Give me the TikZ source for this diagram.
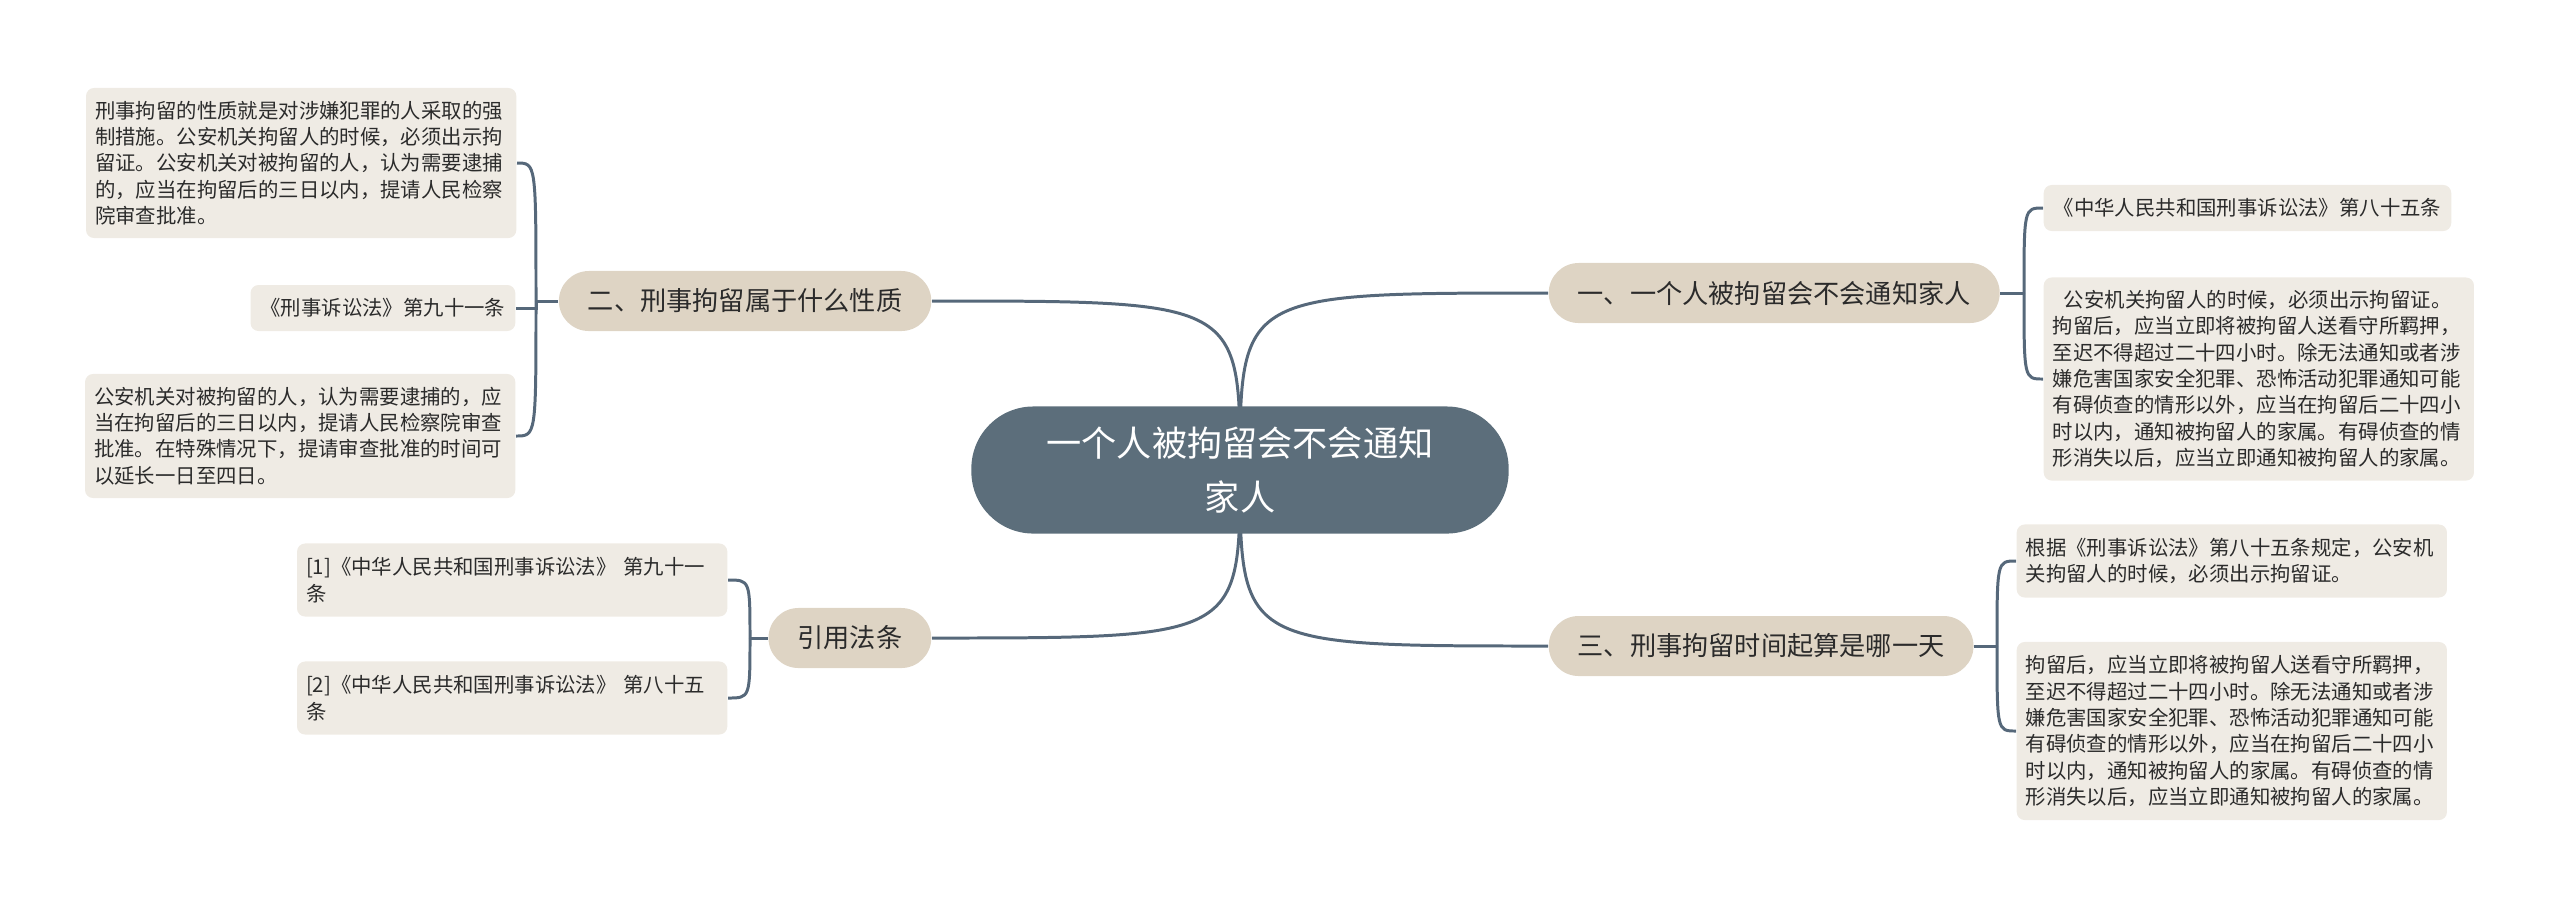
\documentclass[tikz,border=0pt]{standalone}
\usepackage{fontspec}
\setmainfont{Noto Sans CJK SC}
\usetikzlibrary{backgrounds}

\definecolor{rootfill}{HTML}{5C6E7B}
\definecolor{topicfill}{HTML}{DED4C4}
\definecolor{leaffill}{HTML}{EFEBE4}
\definecolor{linkcol}{HTML}{56687A}
\definecolor{textcol}{HTML}{2B2B2B}

\begin{document}
\begin{tikzpicture}[x=0.01cm, y=-0.01cm]
    \tikzstyle{root}=[fill=rootfill, text=white, rounded corners=0.62cm, minimum width=5.37cm, minimum height=1.27cm, align=center, font=\fontsize{10pt}{15.6pt}\selectfont]
    \tikzstyle{topic}=[fill=topicfill, text=textcol, rounded corners=0.3cm, minimum height=0.6cm, inner xsep=0.29cm, font=\fontsize{7.45pt}{9pt}\selectfont]
    \tikzstyle{leaf}=[fill=leaffill, text=textcol, rounded corners=0.08cm, text width=4.12cm, align=left, inner xsep=0.09cm, font=\fontsize{5.8pt}{7.5pt}\selectfont]
    \tikzstyle{tag}=[fill=leaffill, text=textcol, rounded corners=0.08cm, inner xsep=0.1cm, minimum height=0.46cm, font=\fontsize{5.8pt}{7.5pt}\selectfont]
    \tikzstyle{link}=[draw=linkcol, line width=0.85pt]

    \useasboundingbox (0,0) rectangle (2560,908);

    % Root
    \node[root] (root) at (1240,470) {一个人被拘留会不会通知\\家人};

    % Topics
    \node[topic, anchor=west] (t1) at (1548,293) {一、一个人被拘留会不会通知家人};
    \node[topic, anchor=east] (t2) at (932,301) {二、刑事拘留属于什么性质};
    \node[topic, anchor=west] (t3) at (1548,646) {三、刑事拘留时间起算是哪一天};
    \node[topic, anchor=east] (t4) at (932,638) {引用法条};

    % Left leaves
    \node[leaf, minimum height=1.5cm, anchor=east] (l1) at (517,163)
      {刑事拘留的性质就是对涉嫌犯罪的人采取的强\\制措施。公安机关拘留人的时候，必须出示拘\\留证。公安机关对被拘留的人，认为需要逮捕\\的，应当在拘留后的三日以内，提请人民检察\\院审查批准。};
    \node[tag, anchor=east] (l2) at (516,308) {《刑事诉讼法》第九十一条};
    \node[leaf, minimum height=1.24cm, anchor=east] (l3) at (516,436)
      {公安机关对被拘留的人，认为需要逮捕的，应\\当在拘留后的三日以内，提请人民检察院审查\\批准。在特殊情况下，提请审查批准的时间可\\以延长一日至四日。};
    \node[leaf, minimum height=0.73cm, anchor=east] (l4) at (728,580)
      {[1]《中华人民共和国刑事诉讼法》 第九十一\\条};
    \node[leaf, minimum height=0.73cm, anchor=east] (l5) at (728,698)
      {[2]《中华人民共和国刑事诉讼法》 第八十五\\条};

    % Right leaves
    \node[tag, anchor=west] (r1) at (2043,208) {《中华人民共和国刑事诉讼法》第八十五条};
    \node[leaf, minimum height=2.03cm, anchor=west] (r2) at (2043,379)
      {\hspace*{0.55em}公安机关拘留人的时候，必须出示拘留证。\\拘留后，应当立即将被拘留人送看守所羁押，\\至迟不得超过二十四小时。除无法通知或者涉\\嫌危害国家安全犯罪、恐怖活动犯罪通知可能\\有碍侦查的情形以外，应当在拘留后二十四小\\时以内，通知被拘留人的家属。有碍侦查的情\\形消失以后，应当立即通知被拘留人的家属。};
    \node[leaf, minimum height=0.73cm, anchor=west] (r3) at (2016,561)
      {根据《刑事诉讼法》第八十五条规定，公安机\\关拘留人的时候，必须出示拘留证。};
    \node[leaf, minimum height=1.78cm, anchor=west] (r4) at (2016,731)
      {拘留后，应当立即将被拘留人送看守所羁押，\\至迟不得超过二十四小时。除无法通知或者涉\\嫌危害国家安全犯罪、恐怖活动犯罪通知可能\\有碍侦查的情形以外，应当在拘留后二十四小\\时以内，通知被拘留人的家属。有碍侦查的情\\形消失以后，应当立即通知被拘留人的家属。};

    % Connectors
    \begin{scope}[on background layer]
      \draw[link] (root.center) .. controls (root.center |- t1.west) .. (t1.west);
      \draw[link] (root.center) .. controls (root.center |- t2.east) .. (t2.east);
      \draw[link] (root.center) .. controls (root.center |- t3.west) .. (t3.west);
      \draw[link] (root.center) .. controls (root.center |- t4.east) .. (t4.east);

      \coordinate (s1) at (2024,293);
      \draw[link] (t1.east) -- (s1);
      \draw[link] (s1) .. controls (s1 |- r1.west) .. (r1.west);
      \draw[link] (s1) .. controls (s1 |- r2.west) .. (r2.west);

      \coordinate (s2) at (536,301);
      \draw[link] (t2.west) -- (s2);
      \draw[link] (s2) .. controls (s2 |- l1.east) .. (l1.east);
      \draw[link] (s2) |- (l2.east);
      \draw[link] (s2) .. controls (s2 |- l3.east) .. (l3.east);

      \coordinate (s3) at (1997,646);
      \draw[link] (t3.east) -- (s3);
      \draw[link] (s3) .. controls (s3 |- r3.west) .. (r3.west);
      \draw[link] (s3) .. controls (s3 |- r4.west) .. (r4.west);

      \coordinate (s4) at (750,638);
      \draw[link] (t4.west) -- (s4);
      \draw[link] (s4) .. controls (s4 |- l4.east) .. (l4.east);
      \draw[link] (s4) .. controls (s4 |- l5.east) .. (l5.east);
    \end{scope}
\end{tikzpicture}
\end{document}
